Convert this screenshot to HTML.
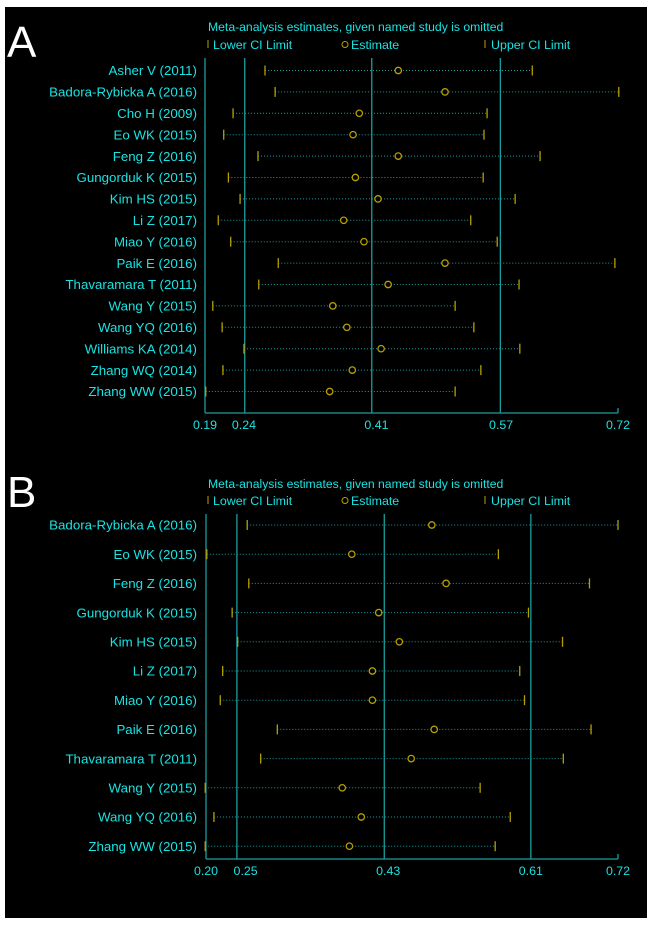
<!DOCTYPE html>
<html><head><meta charset="utf-8"><style>
html,body{margin:0;padding:0;background:#fff;}
svg{display:block;font-family:"Liberation Sans",Arial,sans-serif;}
</style></head><body>
<svg id="c" width="650" height="925">
<rect x="5" y="7" width="642" height="911" fill="#000"/>
</svg>
<script>
const studiesA = ["Asher V (2011)","Badora-Rybicka A (2016)","Cho H (2009)","Eo WK  (2015)","Feng Z (2016)","Gungorduk K (2015)","Kim HS (2015)","Li Z (2017)","Miao Y (2016)","Paik E (2016)","Thavaramara T (2011)","Wang Y (2015)","Wang YQ (2016)","Williams KA (2014)","Zhang WQ (2014)","Zhang WW (2015)"];
const lowerA = [0.267,0.280,0.226,0.214,0.258,0.220,0.235,0.207,0.223,0.284,0.259,0.200,0.212,0.240,0.213,0.191];
const estA   = [0.438,0.498,0.388,0.380,0.438,0.383,0.412,0.368,0.394,0.498,0.425,0.354,0.372,0.416,0.379,0.350];
const upperA = [0.610,0.721,0.552,0.548,0.620,0.547,0.588,0.531,0.565,0.716,0.593,0.511,0.535,0.594,0.544,0.511];
const ticksA = [0.19,0.24,0.41,0.57,0.72];
const refA   = [0.241,0.404,0.569];

const studiesB = ["Badora-Rybicka A (2016)","Eo WK  (2015)","Feng Z (2016)","Gungorduk K (2015)","Kim HS (2015)","Li Z (2017)","Miao Y (2016)","Paik E (2016)","Thavaramara T (2011)","Wang Y (2015)","Wang YQ (2016)","Zhang WW (2015)"];
const lowerB = [0.252,0.201,0.254,0.233,0.240,0.221,0.218,0.290,0.269,0.199,0.210,0.199];
const estB   = [0.485,0.384,0.503,0.418,0.444,0.410,0.410,0.488,0.459,0.372,0.396,0.381];
const upperB = [0.720,0.569,0.684,0.607,0.650,0.596,0.602,0.686,0.651,0.546,0.584,0.565];
const ticksB = [0.20,0.25,0.43,0.61,0.72];
const refB   = [0.239,0.425,0.610];

const svg = document.getElementById('c');
const NS = 'http://www.w3.org/2000/svg';
const CY = '#19e3e3', TEAL = '#1a9e9e', OL = '#b5a000';
function mk(tag, attrs, parent){const e=document.createElementNS(NS,tag);for(const k in attrs)e.setAttribute(k,attrs[k]);(parent||svg).appendChild(e);return e;}

function panel(letter, letterY, titleY, legendY, studies, lo, est, hi, ticks, refs, rowY0, rowStep, axisY, x0, x1){
  const g = mk('g',{});
  
  
  const vmin = ticks[0], vmax = ticks[ticks.length-1];
  const xs = v => x0 + (v - vmin) / (vmax - vmin) * (x1 - x0);
  const ys = i => rowY0 + i * rowStep;
  let t = mk('text',{x:7,y:letterY,fill:'#fff','font-size':44},g); t.textContent=letter;
  
  
  t = mk('text',{x:208,y:titleY,fill:CY,'font-size':12.2},g); t.textContent='Meta-analysis estimates, given named study is omitted';
  
  
  const lg = mk('g',{},g);
  
  
  mk('line',{x1:208,x2:208,y1:legendY-9,y2:legendY-1,stroke:OL,'stroke-width':1},lg);
  t=mk('text',{x:213,y:legendY,fill:CY,'font-size':12.4},lg); t.textContent='Lower CI Limit';
  
  
  mk('circle',{cx:345,cy:legendY-4.5,r:3,fill:'none',stroke:OL},lg);
  t=mk('text',{x:351,y:legendY,fill:CY,'font-size':12.4},lg); t.textContent='Estimate';
  
  
  mk('line',{x1:485,x2:485,y1:legendY-9,y2:legendY-1,stroke:OL,'stroke-width':1},lg);
  t=mk('text',{x:491,y:legendY,fill:CY,'font-size':12.4},lg); t.textContent='Upper CI Limit';
  
  
  const yTop = legendY + 9;
  let l = mk('line',{x1:x0,x2:x0,y1:yTop,y2:axisY,stroke:TEAL,'stroke-width':1.3},g);
  
  
  refs.forEach(r=>{
    const rl = mk('line',{x1:xs(r),x2:xs(r),y1:yTop,y2:axisY,stroke:TEAL,'stroke-width':1.3},g);
    
    
  });
  l = mk('line',{x1:x0,x2:x1,y1:axisY,y2:axisY,stroke:TEAL,'stroke-width':1.3},g);
  
  
  mk('line',{x1:x1,x2:x1,y1:axisY-5,y2:axisY,stroke:TEAL,'stroke-width':1.3},g);
  ticks.forEach(tv=>{
    const tx = mk('text',{x:xs(tv),y:axisY+16,fill:CY,'font-size':12.4,'text-anchor':'middle'},g);
    tx.textContent = tv.toFixed(2);
    
    
  });
  studies.forEach((s,i)=>{
    const y = ys(i);
    const rg = mk('g',{},g);
    
    
    const lb = mk('text',{x:197,y:y+4.7,fill:CY,'font-size':13.3,'text-anchor':'end'},rg);
    lb.textContent = s;
    
    
    const ci = mk('line',{x1:xs(lo[i]),x2:xs(hi[i]),y1:y,y2:y,stroke:TEAL,'stroke-width':1,'stroke-dasharray':'1,2'},rg);
    
    
    const a = mk('line',{x1:xs(lo[i]),x2:xs(lo[i]),y1:y-5,y2:y+5,stroke:OL,'stroke-width':1.3},rg);
    
    
    const b = mk('line',{x1:xs(hi[i]),x2:xs(hi[i]),y1:y-5,y2:y+5,stroke:OL,'stroke-width':1.3},rg);
    
    
    const c = mk('circle',{cx:xs(est[i]),cy:y,r:3.2,fill:'#000',stroke:OL,'stroke-width':1.3},rg);
    
    
  });
}
panel('A', 57, 31, 49, studiesA, lowerA, estA, upperA, ticksA, refA, 70.5, 21.4, 413, 205, 618);
panel('B', 507, 488, 505, studiesB, lowerB, estB, upperB, ticksB, refB, 525, 29.2, 859, 206, 618);
</script>
</body></html>
